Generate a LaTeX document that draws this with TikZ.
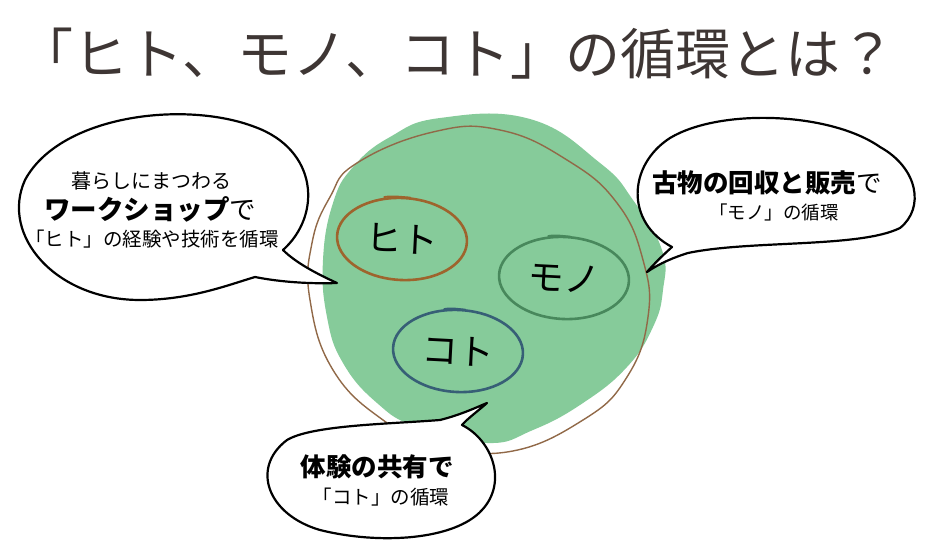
\documentclass[tikz,border=0pt]{standalone}
\usepackage{fontspec}
\usetikzlibrary{shapes.geometric}
\newfontfamily\jp{Noto Sans CJK JP}
\definecolor{blobgreen}{RGB}{134,203,154}
\definecolor{loopbrown}{RGB}{145,105,72}
\definecolor{hitoc}{RGB}{158,100,45}
\definecolor{monoc}{RGB}{72,136,92}
\definecolor{kotoc}{RGB}{55,95,118}
\definecolor{titlec}{RGB}{62,54,52}
\begin{document}
\begin{tikzpicture}[x=1pt,y=-1pt,
  bubble/.style={draw=black, fill=white, line width=2.2pt, line join=round},
  ring/.style={ellipse, line width=2.6pt, minimum width=130pt, minimum height=82pt, inner sep=0pt, outer sep=0pt, font=\jp\fontsize{36}{36}\selectfont},
  sketch/.style={line width=1.8pt, line cap=round},
  small/.style={font=\jp\fontsize{19.5}{20}\selectfont, inner sep=0pt},
  big/.style={font=\jp\fontsize{25.5}{26}\selectfont, inner sep=0pt}]
\useasboundingbox (0,0) rectangle (929,548);

% title
\node[font=\jp\fontsize{55}{55}\selectfont, text=titlec, inner sep=0pt] (title) at (457,54) {「ヒト、モノ、コト」の循環とは？};

% green blob
\fill[blobgreen] plot[smooth cycle, tension=0.75] coordinates {
 (390,137) (440,118) (530,119) (600,163) (633,200) (662,250) (663,290) (653,327)
 (627,367) (583,403) (533,430) (487,443) (417,427) (377,403) (343,363) (327,317)
 (323,260) (333,203) (353,167)};

% brown loop
\draw[loopbrown, line width=1.4pt] plot[smooth cycle, tension=0.75] coordinates {
 (357,163) (433,132) (500,130) (567,160) (617,203) (643,260) (648,317) (627,377)
 (583,420) (507,452) (433,443) (383,420) (333,370) (310,300) (312,243) (330,197)};

% rings
\node[ring, draw=hitoc, rotate=-3] (hito) at (402,239) {ヒト};
\node[ring, draw=monoc, rotate=-3] (mono) at (564,278) {モノ};
\node[ring, draw=kotoc, rotate=-3] (koto) at (458,351) {コト};
\draw[sketch, hitoc] ([shift={(-20pt,1pt)}]hito.north) .. controls +(8pt,1.5pt) and +(-8pt,0.5pt) .. ([shift={(6pt,0.5pt)}]hito.north);
\draw[sketch, monoc] ([shift={(-18pt,1pt)}]mono.north) .. controls +(8pt,1.5pt) and +(-8pt,0.5pt) .. ([shift={(4pt,0.5pt)}]mono.north);
\draw[sketch, kotoc] ([shift={(-16pt,1pt)}]koto.north) .. controls +(8pt,1.5pt) and +(-8pt,0.5pt) .. ([shift={(5pt,0.5pt)}]koto.north);

% left bubble
\draw[bubble] (283,250) .. controls (322,215) and (318,150) .. (255,127)
  .. controls (185,100) and (60,115) .. (25,180)
  .. controls (0,235) and (55,300) .. (140,300)
  .. controls (190,300) and (228,285) .. (255,277)
  .. controls (280,282) and (310,284) .. (337,283)
  .. controls (315,273) and (295,262) .. (283,250) -- cycle;
\node[small, font=\jp\fontsize{20}{20}\selectfont] (l1) at (151,181) {暮らしにまつわる};
\node[big, font=\jp\fontsize{26.5}{27}\selectfont] (l2) at (150,209) {{\bfseries ワークショップ}で};
\node[small] (l3) at (152,239) {「ヒト」の経験や技術を循環};

% right bubble
\draw[bubble] (688,253) .. controls (750,240) and (860,248) .. (900,228)
  .. controls (925,208) and (918,168) .. (880,147)
  .. controls (830,112) and (720,108) .. (670,138)
  .. controls (628,165) and (625,222) .. (672,247)
  .. controls (662,256) and (653,265) .. (647,272)
  .. controls (660,263) and (675,257) .. (688,253) -- cycle;
\node[big] (r1) at (767,183) {{\bfseries 古物の回収と販売}で};
\node[small, font=\jp\fontsize{18.5}{19}\selectfont] (r2) at (774,212) {「モノ」の循環};

% bottom bubble
\draw[bubble] (440,420) .. controls (460,415) and (475,408) .. (487,403)
  .. controls (478,411) and (467,419) .. (462,425)
  .. controls (492,440) and (508,482) .. (482,510)
  .. controls (455,540) and (380,545) .. (320,530)
  .. controls (268,515) and (250,468) .. (287,440)
  .. controls (312,425) and (390,424) .. (440,420) -- cycle;
\node[big, font=\jp\bfseries\fontsize{25.5}{26}\selectfont] (b1) at (377,467) {体験の共有で};
\node[small] (b2) at (381,497) {「コト」の循環};
\end{tikzpicture}
\end{document}
